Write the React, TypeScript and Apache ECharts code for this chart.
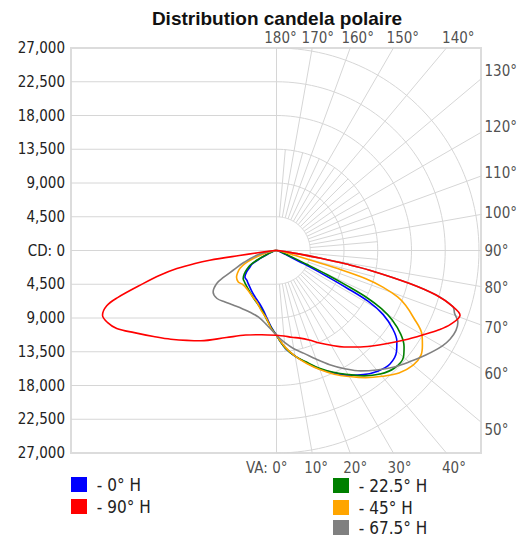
import React, { useEffect, useRef } from "react";
import * as echarts from "echarts";

const TITLE = "Distribution candela polaire";
const CD_MAX = 27000;
const CD_STEP = 4500;
const X_MIN = -27400;
const X_MAX = 27270;
const TOP_VA = [180, 170, 160, 150, 140];
const RIGHT_VA = [130, 120, 110, 100, 90, 80, 70, 60, 50];
const BOTTOM_VA = [0, 10, 20, 30, 40];

const PLANE_NAMES = ["0° H", "22.5° H", "45° H", "67.5° H", "90° H"];
const PLANE_COLORS = ["#0000ff", "#008000", "#ffa500", "#808080", "#ff0000"];
// legend slots: [name, left, top]
const LEGEND_SLOTS: [string, number, number][] = [
  ["0° H", 71, 476],
  ["90° H", 71, 498],
  ["22.5° H", 333, 477],
  ["45° H", 333, 499],
  ["67.5° H", 333, 519],
];

// [vertical angle (deg), candela] — right half: plane C, left half: plane C+180
const H0_NEAR: [number, number][] = [[0, 11300], [5, 13000], [10, 14300], [15, 15500], [20, 16800], [25, 18000], [30, 19200], [35, 20200], [40, 21000], [45, 21400], [50, 20900], [53, 20100], [56, 18700], [59, 16600], [61, 14000], [62, 10500], [63, 7000], [64, 4000], [66, 1500], [70, 600], [80, 200], [90, 0]];
const H0_FAR: [number, number][] = [[0, 11300], [4, 10200], [8, 9100], [12.5, 8150], [18, 7400], [25, 6800], [32, 6300], [40.5, 5800], [45, 5600], [50, 5500], [54.3, 4900], [57.8, 4200], [61, 3700], [64, 2400], [68, 1200], [75, 500], [85, 150], [90, 0]];

const H22_NEAR: [number, number][] = [[0, 11300], [5, 13000], [10, 14300], [15, 15400], [20, 16700], [25, 17900], [30, 19100], [35, 20400], [40, 21500], [45, 22200], [50, 22100], [53, 21300], [56, 20000], [59, 18000], [61, 16000], [62.5, 13500], [63.5, 10500], [64.5, 7500], [65.5, 4500], [67, 2200], [70, 900], [80, 250], [90, 0]];
const H22_FAR: [number, number][] = [[0, 11300], [4, 10300], [8, 9300], [12.5, 8400], [18, 7700], [25, 7100], [32, 6600], [40, 6200], [45, 6000], [50, 5800], [54, 5300], [58, 4600], [61, 4000], [64, 2800], [68, 1400], [75, 500], [85, 150], [90, 0]];

const H45_NEAR: [number, number][] = [[0, 11300], [5, 12900], [10, 14300], [15, 15600], [20, 16900], [25, 18200], [30, 19400], [35, 20700], [40, 21900], [45, 23100], [50, 23800], [54, 23800], [57, 23200], [60, 22400], [64, 20300], [67, 18700], [69, 17300], [71, 15000], [72.5, 12500], [73.5, 8500], [74, 5000], [75, 2500], [78, 1000], [84, 300], [90, 0]];
const H45_FAR: [number, number][] = [[0, 11300], [4, 10400], [8.2, 9200], [14, 8300], [21, 7350], [28, 6900], [38, 6450], [45, 6400], [50.6, 6600], [56.4, 6400], [60, 6000], [64.1, 5400], [67.6, 4500], [71, 3200], [75, 1800], [80, 600], [86, 150], [90, 0]];

const H67_NEAR: [number, number][] = [[0, 11300], [5, 12300], [10, 13300], [15, 14200], [20, 15400], [25, 16800], [30, 18200], [35, 19600], [40, 20800], [45, 22000], [50, 23100], [55, 24300], [60, 25500], [63, 26000], [66, 26200], [68.5, 26000], [70.5, 25200], [72.3, 24700], [74.4, 22100], [76.1, 18300], [78.1, 12700], [79, 9500], [80, 6000], [81, 3500], [82, 1800], [84, 600], [90, 0]];
const H67_FAR: [number, number][] = [[0, 11300], [7.2, 10040], [15, 9200], [23.2, 8950], [30, 9000], [38.5, 9300], [45, 9700], [51.1, 10190], [56.8, 10100], [61.1, 9100], [63, 8000], [65.5, 6350], [70, 4600], [76.6, 2700], [82, 1100], [87, 300], [90, 0]];

const H90_NEAR: [number, number][] = [[0, 11300], [5, 11450], [10, 11750], [15, 12100], [20, 12700], [25, 13600], [30, 14600], [35, 15700], [40, 16800], [45, 18000], [50, 19300], [55, 20800], [60, 22500], [64, 24100], [67, 25200], [70.6, 25950], [72.3, 24750], [74.4, 22100], [76.1, 18300], [78.1, 12700], [79, 9500], [80, 6000], [81, 3500], [82, 1800], [84, 600], [90, 0]];
const H90_FAR: [number, number][] = [[0, 11300], [10, 11400], [20, 12000], [30, 13400], [40, 15700], [50, 18400], [55, 20000], [60, 21900], [64, 23700], [67, 24500], [69.6, 24750], [72, 23800], [73.5, 22100], [76, 18400], [78, 15900], [79.7, 13500], [81, 11000], [81.7, 9000], [82.3, 5000], [83, 2500], [85, 800], [88, 200], [90, 0]];

const PLANES = [
  [H0_NEAR, H0_FAR],
  [H22_NEAR, H22_FAR],
  [H45_NEAR, H45_FAR],
  [H67_NEAR, H67_FAR],
  [H90_NEAR, H90_FAR],
];

const FONT = "'DejaVu Sans Condensed', 'DejaVu Sans', sans-serif";
const TEXT_COLOR = "#222";
const GRID_COLOR = "#d6d6d6";

const rad = (d: number) => (d * Math.PI) / 180;
const toXY = (side: number, p: [number, number]) => [side * p[1] * Math.sin(rad(p[0])), -p[1] * Math.cos(rad(p[0]))];

function loop(near: [number, number][], far: [number, number][]) {
  const right = near.map((p) => toXY(1, p));
  const left = far.filter((p) => p[1] > 0).slice().reverse().map((p) => toXY(-1, p));
  return right.concat(left);
}

function gridSeries(pts: number[][]) {
  return {
    type: "line",
    data: pts,
    symbol: "none",
    showSymbol: false,
    silent: true,
    clip: true,
    z: 1,
    lineStyle: { color: GRID_COLOR, width: 1 },
  };
}

function buildOption() {
  const series: any[] = [];
  // left half horizontal lines
  for (let v = -CD_MAX + CD_STEP; v < CD_MAX; v += CD_STEP) {
    series.push(gridSeries([[X_MIN, v], [v === 0 ? X_MAX : 0, v]]));
  }
  // vertical axis line
  series.push(gridSeries([[0, -CD_MAX], [0, CD_MAX]]));
  // arcs
  for (let r = CD_STEP; r <= CD_MAX; r += CD_STEP) {
    const pts: number[][] = [];
    for (let g = 0; g <= 180; g += 2) pts.push(toXY(1, [g, r]));
    series.push(gridSeries(pts));
  }
  // radial lines
  for (let g = 10; g <= 170; g += 10) {
    if (g === 90) continue;
    series.push(gridSeries([toXY(1, [g, CD_STEP]), toXY(1, [g, 45000])]));
  }
  for (let g = 5; g <= 175; g += 10) {
    series.push(gridSeries([toXY(1, [g, CD_STEP]), toXY(1, [g, CD_STEP * 3])]));
  }

  const labelBase = { show: true, color: TEXT_COLOR, fontSize: 15, fontFamily: FONT };
  const angleLabels: any[] = [];
  TOP_VA.forEach((va) => {
    angleLabels.push({
      name: va + "°",
      value: [28270 * Math.tan(rad(180 - va)) + 530, CD_MAX],
      label: { ...labelBase, position: "top", distance: 2 },
    });
  });
  RIGHT_VA.forEach((va) => {
    angleLabels.push({
      name: va + "°",
      value: [X_MAX, (-28530 * Math.cos(rad(va))) / Math.sin(rad(va))],
      label: { ...labelBase, position: "right", distance: 3 },
    });
  });
  BOTTOM_VA.forEach((va) => {
    if (va === 0) {
      angleLabels.push({
        name: "VA: 0°",
        value: [0, -CD_MAX],
        label: { ...labelBase, position: "bottom", distance: 7, align: "right", offset: [11, 0] },
      });
    } else {
      angleLabels.push({
        name: va + "°",
        value: [27730 * Math.tan(rad(va)) + 400, -CD_MAX],
        label: { ...labelBase, position: "bottom", distance: 7 },
      });
    }
  });
  series.push({
    type: "scatter",
    data: angleLabels,
    symbolSize: 1,
    itemStyle: { color: "rgba(0,0,0,0)" },
    silent: true,
    clip: false,
    label: { show: true, formatter: "{b}" },
    z: 3,
  });

  PLANES.forEach((pl, i) => {
    series.push({
      type: "line",
      name: PLANE_NAMES[i],
      data: loop(pl[0], pl[1]),
      symbol: "none",
      showSymbol: false,
      smooth: 0.35,
      clip: true,
      z: 5,
      color: PLANE_COLORS[i],
      lineStyle: { color: PLANE_COLORS[i], width: 1.6 },
      itemStyle: { color: PLANE_COLORS[i] },
    });
  });

  const legends = LEGEND_SLOTS.map(([name, left, top]) => ({
    orient: "vertical",
    icon: "rect",
    left,
    top,
    itemWidth: 16,
    itemHeight: 15,
    padding: 0,
    selectedMode: false,
    data: [name],
    formatter: "\u00a0- {name}",
    textStyle: { color: TEXT_COLOR, fontSize: 17, lineHeight: 17, fontFamily: FONT },
  }));

  return {
    animation: false,
    backgroundColor: "#ffffff",
    graphic: [
      {
        type: "text",
        x: 277,
        y: 18,
        style: {
          text: TITLE,
          textAlign: "center",
          textVerticalAlign: "middle",
          font: "bold 19px 'Liberation Sans', Arial, sans-serif",
          fill: "#111",
        },
      },
    ],
    legend: legends,
    grid: {
      left: 71,
      right: 38,
      top: 48,
      bottom: 84,
      show: true,
      borderColor: "#dcdcdc",
      borderWidth: 2,
      backgroundColor: "transparent",
    },
    xAxis: {
      type: "value",
      min: X_MIN,
      max: X_MAX,
      show: false,
      splitLine: { show: false },
    },
    yAxis: {
      type: "value",
      min: -CD_MAX,
      max: CD_MAX,
      interval: CD_STEP,
      axisLine: { show: false },
      axisTick: { show: false },
      splitLine: { show: false },
      axisLabel: {
        margin: 6,
        color: TEXT_COLOR,
        fontSize: 15,
        fontFamily: FONT,
        formatter: (v: number) => (v === 0 ? "CD: 0" : Math.abs(v).toLocaleString("en-US")),
      },
    },
    series,
  };
}

export default function App() {
  const ref = useRef<HTMLDivElement>(null);
  useEffect(() => {
    if (!ref.current) return;
    const chart = echarts.init(ref.current, undefined, { renderer: "svg" });
    chart.setOption(buildOption() as any);
    return () => chart.dispose();
  }, []);
  return (
    <div
      ref={ref}
      style={{ position: "fixed", left: 0, top: 0, width: 519, height: 537, background: "#fff" }}
    />
  );
}
